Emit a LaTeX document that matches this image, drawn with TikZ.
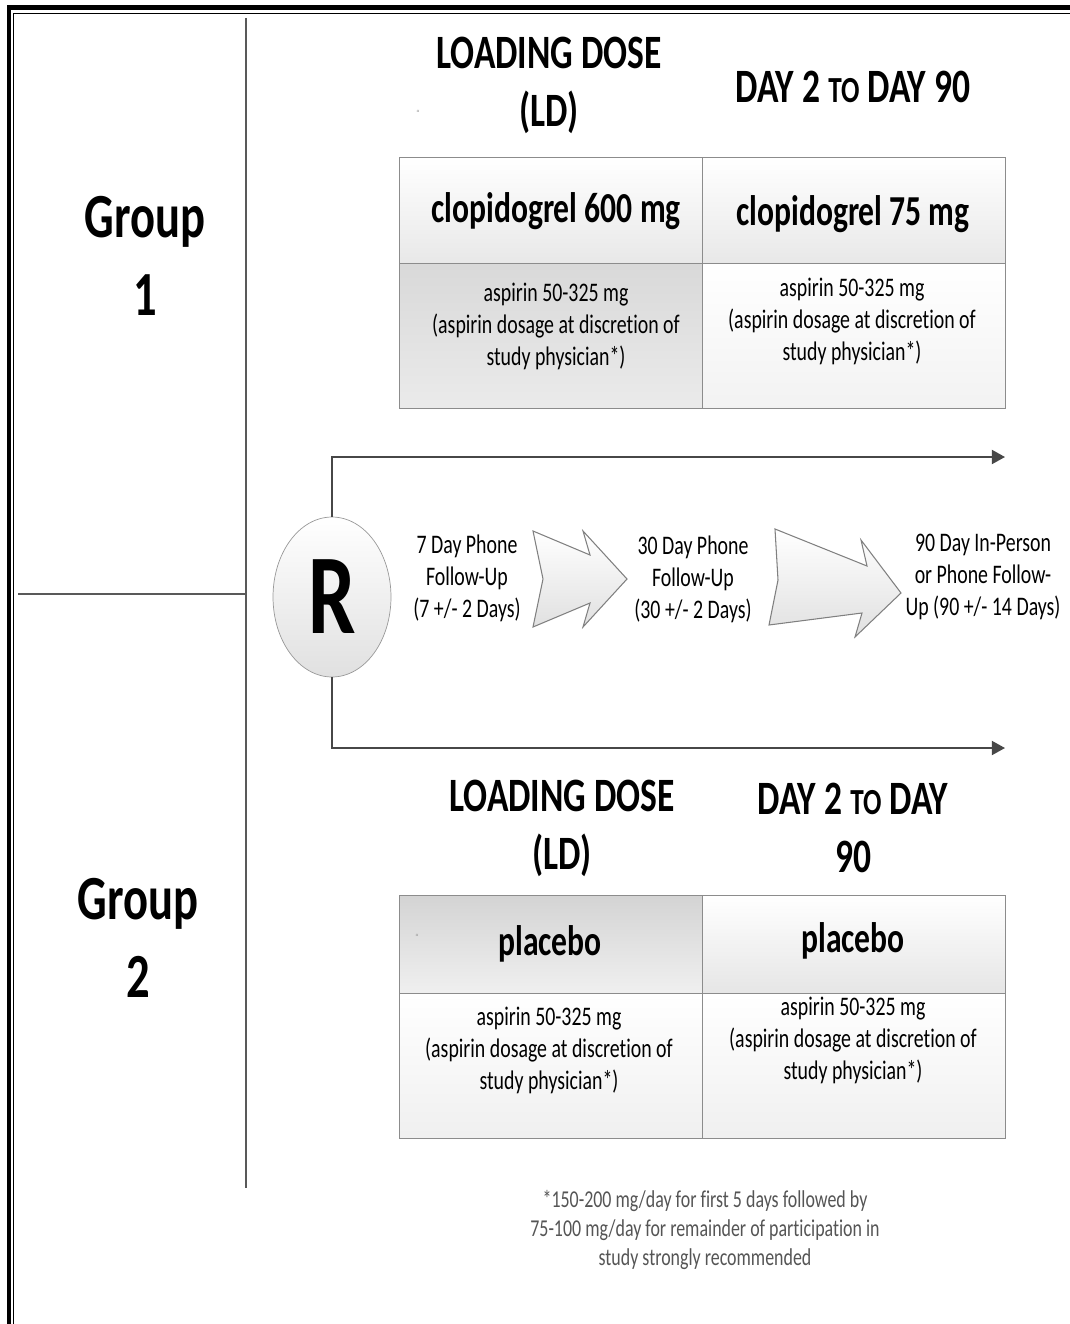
\documentclass[tikz,border=0pt]{standalone}
\usepackage{fontspec}
\setmainfont{Carlito}[Ligatures={TeX,NoCommon}]
\usetikzlibrary{shapes.geometric,arrows.meta,positioning}
\definecolor{rulegray}{HTML}{595959}
\definecolor{cellline}{HTML}{8C8C8C}
\definecolor{flowgray}{HTML}{474747}
\definecolor{notegray}{HTML}{555555}
\newcommand{\tallText}[1]{\scalebox{1}[1.35]{\begin{tabular}{@{}c@{}}#1\end{tabular}}}
\newcommand{\tall}[1]{\scalebox{1}[1.35]{#1}}
\newcommand{\smallTo}{{\fontsize{15.5}{18}\selectfont TO}}
\tikzset{
  hdr/.style={font=\fontsize{20.2}{24.4}\selectfont\bfseries, inner sep=0pt},
  grp/.style={font=\fontsize{26.5}{32.7}\selectfont\bfseries, inner sep=0pt},
  cell/.style={draw=cellline, line width=0.6pt, minimum width=6.06cm, anchor=north west, inner sep=0pt},
  drug/.style={font=\fontsize{18}{22}\selectfont\bfseries, inner sep=0pt},
  dose/.style={font=\fontsize{11.3}{13.4}\selectfont, inner sep=0pt},
  visit/.style={font=\fontsize{11.3}{13.4}\selectfont, inner sep=0pt},
  tick/.style={font=\fontsize{5}{6}\selectfont, text=black!40, inner sep=0pt},
  flowline/.style={draw=flowgray, line width=1.1pt, -{Triangle[length=7.5pt,width=8pt]}},
  bigarrow/.style={draw=black!50, line width=0.6pt, top color=white, bottom color=black!12},
}
\begin{document}
\begin{tikzpicture}[x=0.02cm, y=-0.02cm]
\useasboundingbox (0,0) rectangle (1070,1324);
% frame
\draw[line width=2.55pt] (9,1324) |- (1070,7.5);
\draw[line width=0.95pt] (13.5,1324) |- (1070,13.5);
% group divider
\draw[rulegray, line width=0.9pt] (246,18) -- (246,1188);
\draw[rulegray, line width=0.9pt] (18,594) -- (246,594);
\node[grp] (g1) at (145,261) {\tallText{Group\\1}};
\node[grp] (g2) at (138,943) {\tallText{Group\\2}};

% group 1 table
\node[hdr] (ld1) at (549,86) {\tallText{LOADING DOSE\\(LD)}};
\node[hdr] (day1) at (853,87) {\tall{DAY 2 \smallTo{} DAY 90}};
\node[tick] (tick1) at (418,113) {``};
\node[cell, minimum height=2.12cm, top color=white, bottom color=black!9] (c1ld) at (399,157) {};
\node[cell, minimum height=2.12cm, top color=white, bottom color=black!9] (c1md) at (702,157) {};
\node[cell, minimum height=2.9cm, top color=black!15, bottom color=black!8] (c1ldb) at (399,263) {};
\node[cell, minimum height=2.9cm, top color=white, bottom color=black!5] (c1mdb) at (702,263) {};
\node[drug] (t1ld) at (556,211) {\tall{clopidogrel 600 mg}};
\node[drug] (t1md) at (853,214) {\tall{clopidogrel 75 mg}};
\node[dose] (a1ld) at (556,327) {\tallText{aspirin 50-325 mg\\(aspirin dosage at discretion of\\study physician*)}};
\node[dose] (a1md) at (852,322) {\tallText{aspirin 50-325 mg\\(aspirin dosage at discretion of\\study physician*)}};

% randomisation and visits
\node[ellipse, draw=black!40, minimum width=2.36cm, minimum height=3.2cm, inner sep=0pt,
  top color=white, bottom color=black!12, font=\fontsize{48}{56}\selectfont\bfseries] (R) at (332,597) {\tall{R}};
\coordinate (endA) at (1005,457);
\coordinate (endB) at (1005,748);
\draw[flowline] (R.north) |- (endA);
\draw[flowline] (R.south) |- (endB);
\shadedraw[bigarrow] (533,531) -- (590,555) -- (583,531) -- (627,579) -- (583,627) -- (590,603) -- (533,627) -- (543,579) -- cycle;
\shadedraw[bigarrow] (775,529) -- (867,566) -- (861,540) -- (901,593) -- (855,637) -- (862,613) -- (769,625) -- (778,580) -- cycle;
\node[visit] (fu7) at (467,579) {\tallText{7 Day Phone\\Follow-Up\\(7 +/- 2 Days)}};
\node[visit] (fu30) at (693,580) {\tallText{30 Day Phone\\Follow-Up\\(30 +/- 2 Days)}};
\node[visit] (fu90) at (983,577) {\tallText{90 Day In-Person\\or Phone Follow-\\Up (90 +/- 14 Days)}};

% group 2 table
\node[hdr] (ld2) at (562,829) {\tallText{LOADING DOSE\\(LD)}};
\node[hdr] (day2) at (853,832) {\tallText{DAY 2 \smallTo{} DAY\\90}};
\node[cell, minimum height=1.96cm, top color=black!17, bottom color=black!6] (c2ld) at (399,895) {};
\node[cell, minimum height=1.96cm, top color=white, bottom color=black!10] (c2md) at (702,895) {};
\node[cell, minimum height=2.9cm, top color=white, bottom color=black!6] (c2ldb) at (399,993) {};
\node[cell, minimum height=2.9cm, top color=white, bottom color=black!6] (c2mdb) at (702,993) {};
\node[tick] (tick2) at (417,937) {``};
\node[drug] (t2ld) at (550,944) {\tall{placebo}};
\node[drug] (t2md) at (853,941) {\tall{placebo}};
\node[dose] (a2ld) at (549,1051) {\tallText{aspirin 50-325 mg\\(aspirin dosage at discretion of\\study physician*)}};
\node[dose] (a2md) at (853,1041) {\tallText{aspirin 50-325 mg\\(aspirin dosage at discretion of\\study physician*)}};

% footnote
\node[font=\fontsize{10.2}{12.2}\selectfont, text=notegray, inner sep=0pt] (note) at (705,1231)
  {\tallText{*150-200 mg/day for first 5 days followed by\\75-100 mg/day for remainder of participation in\\study strongly recommended}};
\end{tikzpicture}
\end{document}
